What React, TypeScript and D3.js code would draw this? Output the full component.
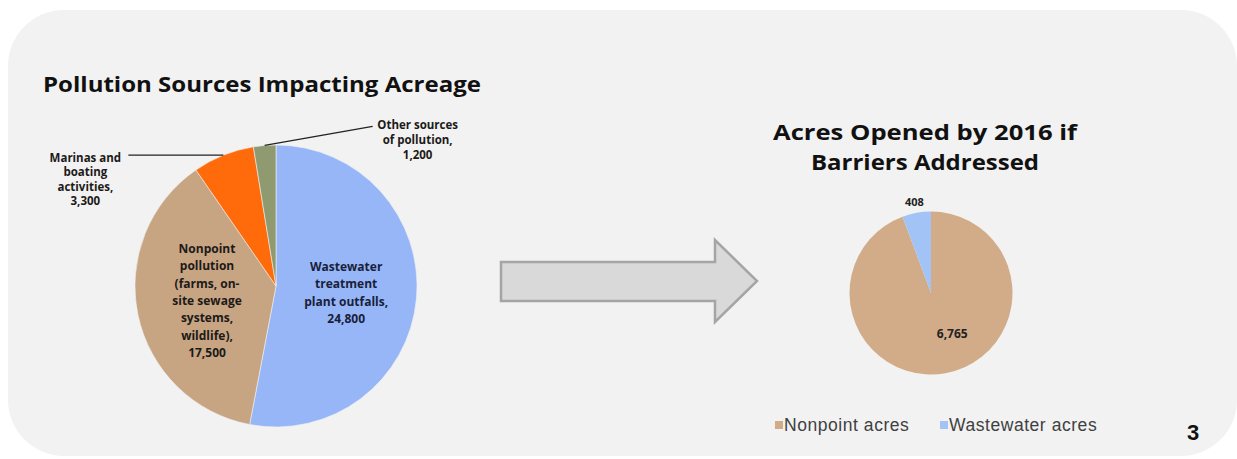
import React from 'react';
import * as d3 from 'd3';

// left pie: pollution sources impacting acreage
const sourceNames = [
  'Wastewater treatment plant outfalls',
  'Nonpoint pollution (farms, on-site sewage systems, wildlife)',
  'Marinas and boating activities',
  'Other sources of pollution',
];
const sourceValues = [24800, 17500, 3300, 1200];
const sourceLabelLines = [
  ['Wastewater', 'treatment', 'plant outfalls,'],
  ['Nonpoint', 'pollution', '(farms, on-', 'site sewage', 'systems,', 'wildlife),'],
  ['Marinas and', 'boating', 'activities,'],
  ['Other sources', 'of pollution,'],
];
const sourceColors = ['#97b6f7', '#c7a482', '#ff6a0a', '#8f9a70'];

// right pie: acres opened by 2016
const openedNames = ['Nonpoint acres', 'Wastewater acres'];
const openedValues = [6765, 408];
const openedColors = ['#d2ac88', '#a2c3f6'];

const W = 1237;
const H = 459;
const boldFont = "'Open Sans', 'DejaVu Sans', sans-serif";
const plainFont = "'Liberation Sans', Arial, sans-serif";
const fmt = d3.format(',');

document.body.style.margin = '0';

const App: React.FC = () => {
  // left pie geometry
  const lc = { x: 276, y: 286 };
  const lr = 141;
  const leftPie = d3.pie<number>().sort(null).value(d => d)(sourceValues);
  const leftArc = d3.arc<d3.PieArcDatum<number>>().innerRadius(0).outerRadius(lr);
  const leftEdge = d3.arc<d3.PieArcDatum<number>>().innerRadius(lr).outerRadius(lr);

  // right pie geometry
  const rc = { x: 931, y: 293 };
  const rr = 81.5;
  const rightPie = d3.pie<number>().sort(null).value(d => d)(openedValues);
  const rightArc = d3.arc<d3.PieArcDatum<number>>().innerRadius(0).outerRadius(rr);
  const rightOuter = d3.arc<d3.PieArcDatum<number>>().innerRadius(rr + 12).outerRadius(rr + 12);

  const innerLabel = (i: number) => {
    const [cx, cy] = leftArc.centroid(leftPie[i]);
    const lines = [...sourceLabelLines[i], fmt(sourceValues[i])];
    const step = 17.3;
    const y0 = cy - ((lines.length - 1) * step) / 2;
    return (
      <text key={`il${i}`} x={lc.x + cx} textAnchor="middle" fontFamily={boldFont}
        fontWeight={700} fontSize={12} fill={i === 0 ? '#17213a' : '#1c1a18'}>
        {lines.map((l, j) => (
          <tspan key={j} x={lc.x + cx} y={lc.y + y0 + j * step} dominantBaseline="central">{l}</tspan>
        ))}
      </text>
    );
  };

  // Marinas: leader goes left horizontally
  const [mx, my] = leftEdge.centroid(leftPie[2]);
  const mEdge = { x: lc.x + mx, y: lc.y + my };
  const mLines = [...sourceLabelLines[2], fmt(sourceValues[2])];
  // Other: leader goes up-right
  const [ox, oy] = leftEdge.centroid(leftPie[3]);
  const oEdge = { x: lc.x + ox, y: lc.y + oy };
  const oLines = [...sourceLabelLines[3], fmt(sourceValues[3])];

  const [wx, wy] = rightOuter.centroid(rightPie[1]);
  const [nx, ny] = rightArc.centroid(rightPie[0]);

  const legendX = [775, 940];

  return (
    <svg width={W} height={H} style={{ display: 'block', background: '#fff' }}>
      <rect x={8} y={10} width={1229} height={446} rx={56} ry={56} fill="#f2f2f2" />

      <text x={43} y={92} fontFamily={boldFont} fontWeight={700} fontSize={22}
        textLength={438} lengthAdjust="spacingAndGlyphs" fill="#111">
        Pollution Sources Impacting Acreage
      </text>

      <g transform={`translate(${lc.x},${lc.y})`}>
        {leftPie.map((d, i) => (
          <path key={i} d={leftArc(d) || ''} fill={sourceColors[i]} stroke="#f2f2f2" strokeWidth={0.6}>
            <title>{`${sourceNames[i]}: ${fmt(sourceValues[i])}`}</title>
          </path>
        ))}
      </g>
      {innerLabel(0)}
      {innerLabel(1)}

      <polyline points={`${mEdge.x},${mEdge.y} ${mEdge.x - 95},${mEdge.y}`} fill="none" stroke="#222" strokeWidth={1.3} />
      <text textAnchor="middle" fontFamily={boldFont} fontWeight={700} fontSize={11.5} fill="#1c1a18">
        {mLines.map((l, j) => (
          <tspan key={j} x={mEdge.x - 138} y={mEdge.y + 2 + j * 14.5} dominantBaseline="central">{l}</tspan>
        ))}
      </text>

      <polyline points={`${oEdge.x},${oEdge.y} ${oEdge.x + 108},${oEdge.y - 19}`} fill="none" stroke="#222" strokeWidth={1.3} />
      <text textAnchor="middle" fontFamily={boldFont} fontWeight={700} fontSize={11.5} fill="#1c1a18">
        {oLines.map((l, j) => (
          <tspan key={j} x={oEdge.x + 153} y={oEdge.y - 21 + j * 15} dominantBaseline="central">{l}</tspan>
        ))}
      </text>

      {/* block arrow */}
      <path d="M501,262 L715,262 L715,240 L757,281 L715,322 L715,301 L501,301 Z"
        fill="#d9d9d9" stroke="#a5a5a5" strokeWidth={2.5} strokeLinejoin="miter" />

      <text textAnchor="middle" fontFamily={boldFont} fontWeight={700} fontSize={21} fill="#111">
        <tspan x={925} y={140} textLength={304} lengthAdjust="spacingAndGlyphs">Acres Opened by 2016 if</tspan>
      </text>
      <text textAnchor="middle" fontFamily={boldFont} fontWeight={700} fontSize={21} fill="#111">
        <tspan x={925} y={170} textLength={228} lengthAdjust="spacingAndGlyphs">Barriers Addressed</tspan>
      </text>

      <g transform={`translate(${rc.x},${rc.y})`}>
        {rightPie.map((d, i) => (
          <path key={i} d={rightArc(d) || ''} fill={openedColors[i]}>
            <title>{`${openedNames[i]}: ${fmt(openedValues[i])}`}</title>
          </path>
        ))}
        <text x={wx} y={wy} textAnchor="middle" dominantBaseline="central" fontFamily={boldFont}
          fontWeight={700} fontSize={11} fill="#222">{fmt(openedValues[1])}</text>
        <text x={nx + 14} y={ny} textAnchor="middle" dominantBaseline="central" fontFamily={boldFont}
          fontWeight={700} fontSize={12} fill="#222">{fmt(openedValues[0])}</text>
      </g>

      {openedNames.map((n, i) => (
        <g key={n}>
          <rect x={legendX[i]} y={421} width={8} height={8} fill={openedColors[i]} />
          <text x={legendX[i] + 9} y={431} fontFamily={plainFont} fontSize={17.5}
            letterSpacing={0.55} fill="#404040">{n}</text>
        </g>
      ))}

      <text x={1187} y={440} fontFamily={plainFont} fontWeight={700} fontSize={22} fill="#111">3</text>
    </svg>
  );
};

export default App;
